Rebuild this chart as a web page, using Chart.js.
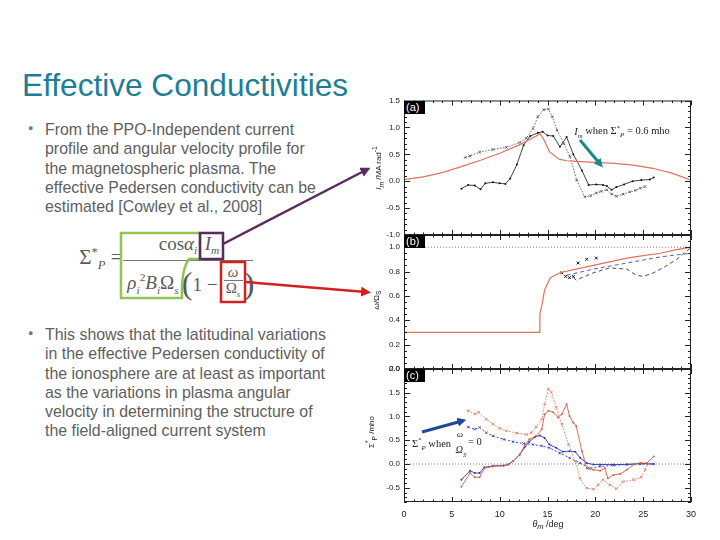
<!DOCTYPE html>
<html><head><meta charset="utf-8">
<script src="https://cdn.jsdelivr.net/npm/chart.js@4.4.0/dist/chart.umd.min.js"></script>
<style>
html,body{margin:0;padding:0;}
body{width:720px;height:540px;background:#fff;position:relative;overflow:hidden;font-family:"Liberation Sans",Arial,sans-serif;}
.abs{position:absolute;white-space:nowrap;}
#title{left:22px;top:70px;font-size:31.6px;line-height:30px;color:#1f7e96;}
.bul{left:45px;font-size:15.9px;line-height:19.3px;color:#5e5e5e;}
.dot{font-size:9px;color:#777;}
.ctr{transform:translate(-50%,-50%);}
.f{font-family:"Liberation Serif","Times New Roman",serif;color:#595959;font-size:19px;line-height:19px;}
.f i{font-style:italic;}
.f sub,.f sup{font-size:60%;}
.lbl{background:#000;color:#fff;font-size:11px;line-height:13px;height:13px;width:21px;padding-left:2px;box-sizing:border-box;}
.ytitle{font-size:8px;color:#222;transform:translate(-50%,-50%) rotate(-90deg);}
.ann{font-family:"Liberation Serif","Times New Roman",serif;font-size:10.5px;color:#222;}
.ann sub,.ann sup{font-size:65%;}
canvas{position:absolute;}
</style>
</head>
<body>
<div id="title" class="abs">Effective Conductivities</div>

<div class="abs dot" style="left:28px;top:123px;">●</div>
<div class="abs bul" style="top:120px;">From the PPO-Independent current<br>profile and angular velocity profile for<br>the magnetospheric plasma. The<br>effective Pedersen conductivity can be<br>estimated [Cowley et al., 2008]</div>

<div class="abs dot" style="left:28px;top:328px;">●</div>
<div class="abs bul" style="top:325px;">This shows that the latitudinal variations<br>in the effective Pedersen conductivity of<br>the ionosphere are at least as important<br>as the variations in plasma angular<br>velocity in determining the structure of<br>the field-aligned current system</div>

<!-- formula -->
<div class="abs f ctr" style="left:101px;top:259px;font-size:21px;">Σ<sup>*</sup><sub><i>P</i></sub> =</div>
<div class="abs f ctr" style="left:178px;top:247px;">cos<i>α</i><sub><i>i</i></sub></div>
<div class="abs f ctr" style="left:212px;top:247px;"><i>I</i><sub><i>m</i></sub></div>
<div class="abs" style="left:123px;top:260px;width:130px;height:1px;background:#777;"></div>
<div class="abs f ctr" style="left:153px;top:284px;"><i>ρ</i><sub><i>i</i></sub><sup>2</sup><i>B</i><sub><i>i</i></sub>Ω<sub><i>s</i></sub></div>
<div class="abs f ctr" style="left:187px;top:283px;font-size:32px;line-height:32px;">(</div>
<div class="abs f ctr" style="left:205px;top:284px;">1 −</div>
<div class="abs f ctr" style="left:233px;top:272px;font-size:15px;"><i>ω</i></div>
<div class="abs" style="left:224px;top:280px;width:19px;height:1px;background:#777;"></div>
<div class="abs f ctr" style="left:233px;top:291px;font-size:15px;">Ω<sub><i>s</i></sub></div>
<div class="abs f ctr" style="left:249px;top:283px;font-size:32px;line-height:32px;">)</div>

<canvas id="ca" width="340" height="146" style="left:360px;top:95px;"></canvas>
<canvas id="cb" width="340" height="146" style="left:360px;top:229px;"></canvas>
<canvas id="cc" width="340" height="177" style="left:360px;top:363px;"></canvas>

<div class="abs lbl" style="left:404px;top:101px;">(a)</div>
<div class="abs lbl" style="left:404px;top:235px;">(b)</div>
<div class="abs lbl" style="left:404px;top:369px;">(c)</div>

<div class="abs ytitle" style="left:378px;top:168px;"><i>I<sub>m</sub></i> /MA rad<sup>-1</sup></div>
<div class="abs ytitle" style="left:377px;top:300px;"><i>ω</i>/Ω<sub>S</sub></div>
<div class="abs ytitle" style="left:371px;top:432px;">Σ<sup>*</sup><sub>P</sub> /mho</div>
<div class="abs ctr" style="left:548px;top:525px;font-size:9px;color:#222;"><i>θ<sub>m</sub></i> /deg</div>

<div class="abs ann ctr" style="left:622px;top:131px;"><i>I<sub>m</sub></i> when Σ<sup>*</sup><sub><i>P</i></sub> = 0.6 mho</div>
<div class="abs ann" style="left:412px;top:436px;">Σ<sup>*</sup><sub><i>P</i></sub> when</div>
<div class="abs ann ctr" style="left:460px;top:434px;font-size:9px;"><i>ω</i></div>
<div class="abs ann ctr" style="left:461px;top:451px;"><i>Ω<sub>S</sub></i></div>
<div class="abs ann" style="left:468px;top:436px;">= 0</div>

<svg class="abs" style="left:0;top:0;pointer-events:none;" width="720" height="540">
<defs>
<marker id="mp" markerWidth="4" markerHeight="4" refX="2" refY="2" orient="auto" markerUnits="strokeWidth"><path d="M0,0 L4,2 L0,4 z" fill="#5b2a5e"/></marker>
<marker id="mr" markerWidth="4" markerHeight="4" refX="2" refY="2" orient="auto" markerUnits="strokeWidth"><path d="M0,0 L4,2 L0,4 z" fill="#d42020"/></marker>
<marker id="mt" markerWidth="3" markerHeight="3" refX="1.5" refY="1.5" orient="auto" markerUnits="strokeWidth"><path d="M0,0 L3,1.5 L0,3 z" fill="#178a8a"/></marker>
<marker id="mb" markerWidth="3" markerHeight="3" refX="1.5" refY="1.5" orient="auto" markerUnits="strokeWidth"><path d="M0,0 L3,1.5 L0,3 z" fill="#1e4a9a"/></marker>
</defs>
<path d="M121,233 H200 V259 H189 Q181,270 182,298 H121 Z" fill="none" stroke="#92c353" stroke-width="2.5"/>
<rect x="200" y="233" width="23" height="26" fill="none" stroke="#5b2a5e" stroke-width="2.5"/>
<rect x="221" y="262" width="24" height="40" fill="none" stroke="#d42020" stroke-width="2.5"/>
<line x1="223" y1="244" x2="366" y2="170" stroke="#5b2a5e" stroke-width="2.5" marker-end="url(#mp)"/>
<line x1="246" y1="282" x2="366" y2="292" stroke="#d42020" stroke-width="2.5" marker-end="url(#mr)"/>
<line x1="580" y1="140" x2="600" y2="164" stroke="#178a8a" stroke-width="3" marker-end="url(#mt)"/>
<line x1="422" y1="432" x2="462" y2="421" stroke="#1e4a9a" stroke-width="3" marker-end="url(#mb)"/>
</svg>

<script>
// ---------- Panel (a): I_m (MA rad^-1) ----------
const aModelTheta = [0,2,4,6,8,10,12,13,14,14.2,14.6,15.2,16.2,17,18,20,22,24,26,28,30];
const aModelIm    = [0.03,0.08,0.16,0.27,0.39,0.52,0.67,0.76,0.86,0.89,0.78,0.55,0.41,0.38,0.37,0.35,0.33,0.3,0.24,0.15,0.02];
const aCrossTheta = [6.4,6.9,7.9,9.3,10.7,12.1,12.8,13.5,14.0,14.6,15.1,15.5,16.0,16.7,17.35,18.05,18.9,19.5,20.1,20.6,21.2,21.7,22.2,22.9,23.6,24.2,24.7,25.2];
const aCrossIm    = [0.44,0.47,0.54,0.59,0.63,0.72,0.8,0.98,1.2,1.33,1.34,1.2,0.95,0.7,0.46,0.02,-0.29,-0.27,-0.22,-0.19,-0.16,-0.24,-0.28,-0.24,-0.2,-0.17,-0.13,-0.1];
const aDotTheta   = [6,6.7,7.4,8,8.5,9.3,10,10.6,11.1,11.8,12.5,13.2,14,14.5,15,15.6,16.3,17,17.7,18.6,19.3,20.1,20.8,21.2,21.7,22.2,23.0,23.9,24.8,25.7,26.1];
const aDotIm      = [-0.14,-0.07,-0.08,-0.15,-0.04,-0.02,-0.04,-0.05,0.05,0.31,0.67,0.84,0.9,0.92,0.85,0.84,0.64,0.82,0.5,0.2,-0.07,-0.06,-0.07,-0.09,-0.16,-0.11,-0.06,0.0,0.02,0.03,0.07];

// ---------- Panel (b): omega / Omega_S ----------
const bRefTheta   = [0,30];
const bRefOmega   = [1,1];
const bModelTheta = [0,14.15,14.2,14.4,14.7,15.3,16.3,18,19.8,21.5,23.3,25,26.8,28.5,30];
const bModelOmega = [0.3,0.3,0.45,0.52,0.65,0.75,0.79,0.82,0.85,0.88,0.91,0.93,0.95,0.98,1.0];
const bCrossTheta = [16.5,16.9,17.3,17.7,18.2,19.1,20.1];
const bCrossOmega = [0.79,0.76,0.75,0.76,0.87,0.9,0.91];
const bDashTheta  = [17.7,18.0,19.8,21.5,23.3,24.3,25.0,26.1,27.5,28.5,29.9];
const bDashOmega  = [0.75,0.73,0.79,0.83,0.82,0.77,0.76,0.79,0.85,0.9,0.99];
const bBlueTheta  = [17.0,19.8,23.3,26.8,29.9];
const bBlueOmega  = [0.77,0.82,0.87,0.92,0.95];

// ---------- Panel (c): Sigma_P* (mho) ----------
const cRefTheta      = [0,30];
const cRefSigma      = [0,0];
const cRedCrossTheta = [6.7,7.4,7.8,8.6,9.3,10.0,10.7,11.8,12.8,13.3,13.8,14.4,14.7,15.1,15.4,15.9,16.5,17.2,17.9,18.4,19.1,19.8,20.3,20.8,21.5,22.2,22.9,24.0,24.8,25.2,25.5];
const cRedCrossSigma = [1.12,1.05,1.09,0.94,0.84,0.75,0.7,0.65,0.62,0.66,0.78,0.94,1.26,1.58,1.51,1.19,0.84,0.41,0.06,-0.3,-0.51,-0.53,-0.44,-0.33,-0.44,-0.52,-0.37,-0.33,-0.28,-0.12,0.0];
const cRedDotTheta   = [6.0,6.9,7.4,7.9,8.4,9.3,10.4,10.9,11.4,12.1,12.6,13.1,13.8,14.4,14.7,15.1,15.6,16.1,16.5,17.0,17.3,17.7,18.0,18.6,19.1,19.8,20.5,21.0,21.3,21.9,22.6,23.3,24.0,24.7,25.4,26.1];
const cRedDotSigma   = [-0.48,-0.19,-0.28,-0.28,-0.09,-0.05,-0.04,-0.01,0.06,0.2,0.38,0.52,0.59,0.73,1.05,1.12,1.09,0.98,1.05,1.26,1.01,0.87,0.8,0.27,-0.09,-0.12,-0.14,-0.09,-0.3,-0.23,-0.21,-0.12,-0.01,0.02,0.02,0.16];
const cBlueCrossTheta= [6.7,7.4,7.9,8.6,9.3,10.4,11.4,12.5,13.5,14.4,15.2,16.3,17.3,18.4,19.4,20.5,21.9,23.3,24.7,26.1];
const cBlueCrossSigma= [0.78,0.73,0.77,0.66,0.59,0.52,0.47,0.43,0.41,0.38,0.34,0.23,0.13,0.02,-0.09,-0.05,-0.03,-0.01,0.0,0.0];
const cBlueDotTheta  = [6.0,6.9,7.4,7.9,8.4,9.3,10.4,10.9,11.4,12.1,12.6,13.1,13.7,14.2,14.7,15.2,15.9,16.6,17.3,17.9,18.4,19.1,19.8,20.5,21.9,23.3,24.7,26.1];
const cBlueDotSigma  = [-0.33,-0.14,-0.19,-0.19,-0.07,-0.04,-0.03,-0.01,0.06,0.2,0.35,0.47,0.57,0.6,0.55,0.41,0.34,0.26,0.27,0.26,0.13,0.02,-0.01,-0.01,-0.01,-0.01,0.01,0.0];

// ---------- tick labels ----------
const thetaTicks = [0,5,10,15,20,25,30];
const aTicks = [-1.0,-0.5,0.0,0.5,1.0,1.5];
const bTicks = [0.0,0.2,0.4,0.6,0.8,1.0];
const cTicks = [-0.5,0.0,0.5,1.0,1.5,2.0];

const pts = (xs, ys) => xs.map((x, i) => ({x: x, y: ys[i]}));

const framePlugin = {
  id: 'frame',
  afterDatasetsDraw(chart, args, opts) {
    const ctx = chart.ctx, a = chart.chartArea, xs = chart.scales.x, ys = chart.scales.y;
    ctx.save();
    ctx.strokeStyle = '#222';
    ctx.lineWidth = 1;
    ctx.strokeRect(a.left + 0.5, a.top + 0.5, a.right - a.left - 1, a.bottom - a.top - 1);
    ctx.beginPath();
    for (let v = 0; v <= 30; v++) {
      const px = Math.round(xs.getPixelForValue(v)) + 0.5;
      const L = v % 5 === 0 ? 5 : 2.5;
      ctx.moveTo(px, a.bottom); ctx.lineTo(px, a.bottom - L);
      ctx.moveTo(px, a.top); ctx.lineTo(px, a.top + L);
    }
    const n0 = Math.ceil(ys.min / opts.minor - 1e-6), n1 = Math.floor(ys.max / opts.minor + 1e-6);
    for (let n = n0; n <= n1; n++) {
      const v = n * opts.minor;
      const r = v / opts.major;
      const L = Math.abs(r - Math.round(r)) < 1e-6 ? 6 : 3;
      const py = Math.round(ys.getPixelForValue(v)) + 0.5;
      ctx.moveTo(a.left, py); ctx.lineTo(a.left + L, py);
      ctx.moveTo(a.right, py); ctx.lineTo(a.right - L, py);
    }
    ctx.stroke();
    ctx.restore();
  }
};

function makeChart(id, datasets, yMin, yMax, yTicks, minor, major, showX, pad) {
  return new Chart(document.getElementById(id), {
    type: 'line',
    data: { datasets: datasets },
    options: {
      responsive: false,
      animation: false,
      events: [],
      layout: { padding: pad },
      plugins: { legend: { display: false }, tooltip: { enabled: false }, frame: { minor: minor, major: major } },
      elements: { line: { tension: 0 } },
      scales: {
        x: {
          type: 'linear', min: 0, max: 30, display: showX,
          grid: { display: false, drawTicks: false }, border: { display: false },
          afterBuildTicks: s => { s.ticks = thetaTicks.map(v => ({value: v})); },
          afterFit: s => { s.height = showX ? 38 : 0; s.paddingLeft = 0; s.paddingRight = 0; },
          ticks: { color: '#222', font: { size: 9, family: 'Liberation Sans' }, padding: 7, maxRotation: 0, callback: v => String(v) }
        },
        y: {
          type: 'linear', min: yMin, max: yMax,
          grid: { display: false, drawTicks: false }, border: { display: false },
          afterBuildTicks: s => { s.ticks = yTicks.map(v => ({value: v})); },
          afterFit: s => { s.width = 44; s.paddingTop = 0; s.paddingBottom = 0; },
          ticks: { color: '#222', font: { size: 8, family: 'Liberation Sans' }, padding: 4, callback: v => Number(v).toFixed(1) }
        }
      }
    },
    plugins: [framePlugin]
  });
}

const RED = '#e0735a', RED2 = '#d4603f', BLUE = '#2a34b8';

makeChart('ca', [
  { data: pts(aModelTheta, aModelIm), borderColor: RED, borderWidth: 1.2, pointRadius: 0 },
  { data: pts(aCrossTheta, aCrossIm), borderColor: '#444', borderWidth: 0.8, borderDash: [1.5, 1.5], pointStyle: 'crossRot', pointRadius: 1.8, pointBorderColor: '#333', pointBorderWidth: 0.7 },
  { data: pts(aDotTheta, aDotIm), borderColor: '#111', borderWidth: 0.8, pointStyle: 'circle', pointRadius: 1, pointBackgroundColor: '#111', pointBorderWidth: 0 }
], -1.0, 1.5, aTicks, 0.1, 0.5, false, { top: 5.5, right: 9, left: 0, bottom: 6 });

makeChart('cb', [
  { data: pts(bRefTheta, bRefOmega), borderColor: '#555', borderWidth: 0.8, borderDash: [1, 2], pointRadius: 0 },
  { data: pts(bModelTheta, bModelOmega), borderColor: RED, borderWidth: 1.2, pointRadius: 0 },
  { data: pts(bDashTheta, bDashOmega), borderColor: '#222', borderWidth: 0.8, borderDash: [4, 3], pointRadius: 0 },
  { data: pts(bBlueTheta, bBlueOmega), borderColor: BLUE, borderWidth: 0.8, borderDash: [4, 3], pointRadius: 0 },
  { data: pts(bCrossTheta, bCrossOmega), showLine: false, pointStyle: 'crossRot', pointRadius: 2, pointBorderColor: '#111', pointBorderWidth: 1 }
], 0, 1.1, bTicks, 0.05, 0.2, false, { top: 6, right: 9, left: 0, bottom: 6 });

makeChart('cc', [
  { data: pts(cRefTheta, cRefSigma), borderColor: '#555', borderWidth: 0.8, borderDash: [1, 2], pointRadius: 0 },
  { data: pts(cRedCrossTheta, cRedCrossSigma), borderColor: RED, borderWidth: 0.9, borderDash: [1.5, 1.5], pointStyle: 'crossRot', pointRadius: 1.8, pointBorderColor: RED2, pointBorderWidth: 0.7 },
  { data: pts(cRedDotTheta, cRedDotSigma), borderColor: RED2, borderWidth: 0.9, pointStyle: 'circle', pointRadius: 1, pointBackgroundColor: RED2, pointBorderWidth: 0 },
  { data: pts(cBlueCrossTheta, cBlueCrossSigma), borderColor: BLUE, borderWidth: 0.9, borderDash: [2, 2], pointStyle: 'crossRot', pointRadius: 1.8, pointBorderColor: BLUE, pointBorderWidth: 0.7 },
  { data: pts(cBlueDotTheta, cBlueDotSigma), borderColor: BLUE, borderWidth: 0.9, pointStyle: 'circle', pointRadius: 1, pointBackgroundColor: BLUE, pointBorderWidth: 0 }
], -0.8, 2.0, cTicks, 0.1, 0.5, true, { top: 6, right: 9, left: 0, bottom: 0 });
</script>
</body></html>
